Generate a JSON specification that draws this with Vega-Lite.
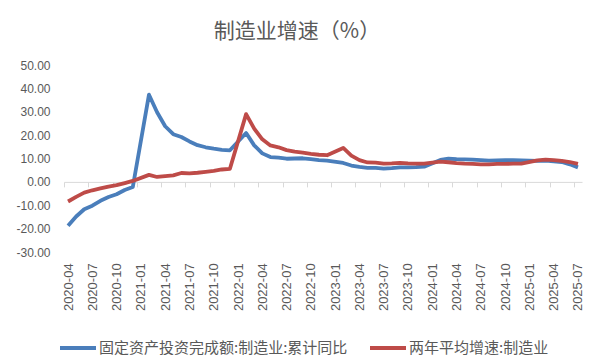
{
  "$schema": "https://vega.github.io/schema/vega-lite/v6.json",
  "width": 518,
  "height": 187,
  "autosize": {"type": "none"},
  "padding": {"left": 64, "top": 65, "right": 20, "bottom": 110},
  "background": "white",
  "config": {"view": {"stroke": null}},
  "title": {"text": "制造业增速（%）", "font": "Noto Sans CJK SC", "fontSize": 21, "fontWeight": "normal", "color": "#595959", "anchor": "middle", "dx": -26, "offset": 17},
  "datasets": {
    "blue": [
      {"m": "2020-04", "v": -18.8}, {"m": "2020-05", "v": -14.8}, {"m": "2020-06", "v": -11.7}, {"m": "2020-07", "v": -10.2},
      {"m": "2020-08", "v": -8.1}, {"m": "2020-09", "v": -6.5}, {"m": "2020-10", "v": -5.3}, {"m": "2020-11", "v": -3.5},
      {"m": "2020-12", "v": -2.2},
      {"m": "2021-02", "v": 37.3}, {"m": "2021-03", "v": 29.8}, {"m": "2021-04", "v": 23.8}, {"m": "2021-05", "v": 20.4},
      {"m": "2021-06", "v": 19.2}, {"m": "2021-07", "v": 17.3}, {"m": "2021-08", "v": 15.7}, {"m": "2021-09", "v": 14.8},
      {"m": "2021-10", "v": 14.2}, {"m": "2021-11", "v": 13.7}, {"m": "2021-12", "v": 13.5},
      {"m": "2022-02", "v": 20.9}, {"m": "2022-03", "v": 15.6}, {"m": "2022-04", "v": 12.2}, {"m": "2022-05", "v": 10.6},
      {"m": "2022-06", "v": 10.4}, {"m": "2022-07", "v": 9.9}, {"m": "2022-08", "v": 10.0}, {"m": "2022-09", "v": 10.1},
      {"m": "2022-10", "v": 9.7}, {"m": "2022-11", "v": 9.3}, {"m": "2022-12", "v": 9.1},
      {"m": "2023-02", "v": 8.1}, {"m": "2023-03", "v": 7.0}, {"m": "2023-04", "v": 6.4}, {"m": "2023-05", "v": 6.0},
      {"m": "2023-06", "v": 6.0}, {"m": "2023-07", "v": 5.7}, {"m": "2023-08", "v": 5.9}, {"m": "2023-09", "v": 6.2},
      {"m": "2023-10", "v": 6.2}, {"m": "2023-11", "v": 6.3}, {"m": "2023-12", "v": 6.5},
      {"m": "2024-02", "v": 9.4}, {"m": "2024-03", "v": 9.9}, {"m": "2024-04", "v": 9.7}, {"m": "2024-05", "v": 9.6},
      {"m": "2024-06", "v": 9.5}, {"m": "2024-07", "v": 9.3}, {"m": "2024-08", "v": 9.1}, {"m": "2024-09", "v": 9.2},
      {"m": "2024-10", "v": 9.3}, {"m": "2024-11", "v": 9.3}, {"m": "2024-12", "v": 9.2},
      {"m": "2025-02", "v": 9.0}, {"m": "2025-03", "v": 9.1}, {"m": "2025-04", "v": 8.8}, {"m": "2025-05", "v": 8.5},
      {"m": "2025-06", "v": 7.5}, {"m": "2025-07", "v": 6.2}
    ],
    "red": [
      {"m": "2020-04", "v": -8.4}, {"m": "2020-05", "v": -6.4}, {"m": "2020-06", "v": -4.6}, {"m": "2020-07", "v": -3.6},
      {"m": "2020-08", "v": -2.8}, {"m": "2020-09", "v": -2.0}, {"m": "2020-10", "v": -1.4}, {"m": "2020-11", "v": -0.5},
      {"m": "2020-12", "v": 0.4},
      {"m": "2021-02", "v": 3.0}, {"m": "2021-03", "v": 2.1}, {"m": "2021-04", "v": 2.5}, {"m": "2021-05", "v": 2.8},
      {"m": "2021-06", "v": 3.8}, {"m": "2021-07", "v": 3.6}, {"m": "2021-08", "v": 3.9}, {"m": "2021-09", "v": 4.3},
      {"m": "2021-10", "v": 4.7}, {"m": "2021-11", "v": 5.3}, {"m": "2021-12", "v": 5.6},
      {"m": "2022-02", "v": 29.0}, {"m": "2022-03", "v": 22.8}, {"m": "2022-04", "v": 18.2}, {"m": "2022-05", "v": 15.6},
      {"m": "2022-06", "v": 14.8}, {"m": "2022-07", "v": 13.6}, {"m": "2022-08", "v": 12.9}, {"m": "2022-09", "v": 12.5},
      {"m": "2022-10", "v": 12.0}, {"m": "2022-11", "v": 11.6}, {"m": "2022-12", "v": 11.4},
      {"m": "2023-02", "v": 14.5}, {"m": "2023-03", "v": 11.2}, {"m": "2023-04", "v": 9.3}, {"m": "2023-05", "v": 8.3},
      {"m": "2023-06", "v": 8.2}, {"m": "2023-07", "v": 7.8}, {"m": "2023-08", "v": 7.9}, {"m": "2023-09", "v": 8.1},
      {"m": "2023-10", "v": 7.9}, {"m": "2023-11", "v": 7.8}, {"m": "2023-12", "v": 7.8},
      {"m": "2024-02", "v": 8.7}, {"m": "2024-03", "v": 8.4}, {"m": "2024-04", "v": 8.0}, {"m": "2024-05", "v": 7.8},
      {"m": "2024-06", "v": 7.7}, {"m": "2024-07", "v": 7.5}, {"m": "2024-08", "v": 7.5}, {"m": "2024-09", "v": 7.7},
      {"m": "2024-10", "v": 7.7}, {"m": "2024-11", "v": 7.8}, {"m": "2024-12", "v": 7.8},
      {"m": "2025-02", "v": 9.2}, {"m": "2025-03", "v": 9.5}, {"m": "2025-04", "v": 9.3}, {"m": "2025-05", "v": 9.0},
      {"m": "2025-06", "v": 8.5}, {"m": "2025-07", "v": 7.7}
    ]
  },
  "encoding": {
    "x": {
      "field": "m", "type": "ordinal",
      "scale": {"type": "point", "padding": 0.5, "domain": [
        "2020-04","2020-05","2020-06","2020-07","2020-08","2020-09","2020-10","2020-11","2020-12",
        "2021-01","2021-02","2021-03","2021-04","2021-05","2021-06","2021-07","2021-08","2021-09","2021-10","2021-11","2021-12",
        "2022-01","2022-02","2022-03","2022-04","2022-05","2022-06","2022-07","2022-08","2022-09","2022-10","2022-11","2022-12",
        "2023-01","2023-02","2023-03","2023-04","2023-05","2023-06","2023-07","2023-08","2023-09","2023-10","2023-11","2023-12",
        "2024-01","2024-02","2024-03","2024-04","2024-05","2024-06","2024-07","2024-08","2024-09","2024-10","2024-11","2024-12",
        "2025-01","2025-02","2025-03","2025-04","2025-05","2025-06","2025-07"]},
      "axis": {
        "orient": "bottom", "title": null, "grid": false,
        "values": ["2020-04","2020-07","2020-10","2021-01","2021-04","2021-07","2021-10","2022-01","2022-04","2022-07","2022-10","2023-01","2023-04","2023-07","2023-10","2024-01","2024-04","2024-07","2024-10","2025-01","2025-04","2025-07"],
        "offset": -70.125, "domainColor": "#d9d9d9", "domainWidth": 1, "tickColor": "#d9d9d9", "tickSize": 5,
        "tickOffset": -4.05, "labelOffset": 4.05,
        "labelAngle": -90, "labelPadding": 76, "labelFontSize": 13, "labelFont": "Liberation Sans", "labelColor": "#595959",
        "labelOverlap": false, "labelBound": false
      }
    },
    "y": {
      "field": "v", "type": "quantitative",
      "scale": {"domain": [-30, 50], "nice": false, "zero": false},
      "axis": {
        "title": null, "grid": false, "ticks": false, "domain": false,
        "values": [-30, -20, -10, 0, 10, 20, 30, 40, 50],
        "labelExpr": "replace(format(datum.value, '.2f'), '\u2212', '-')",
        "labelFontSize": 12, "labelFont": "Liberation Sans", "labelColor": "#595959", "labelPadding": 14
      }
    },
    "color": {
      "field": "s", "type": "nominal",
      "scale": {"domain": ["固定资产投资完成额:制造业:累计同比", "两年平均增速:制造业"], "range": ["#4A7EBB", "#BE4B48"]},
      "legend": {
        "title": null, "orient": "none", "legendX": -6, "legendY": 263, "direction": "horizontal",
        "symbolType": "stroke", "symbolSize": 1296, "symbolStrokeWidth": 4,
        "labelFont": "Noto Sans CJK SC", "labelFontSize": 15, "labelColor": "#595959", "labelLimit": 400,
        "labelOffset": 1, "columnPadding": 14
      }
    }
  },
  "layer": [
    {
      "data": {"name": "blue"},
      "transform": [{"calculate": "'固定资产投资完成额:制造业:累计同比'", "as": "s"}],
      "mark": {"type": "line", "strokeWidth": 3.8, "strokeJoin": "round"}
    },
    {
      "data": {"name": "red"},
      "transform": [{"calculate": "'两年平均增速:制造业'", "as": "s"}],
      "mark": {"type": "line", "strokeWidth": 3.8, "strokeJoin": "round"}
    }
  ]
}
